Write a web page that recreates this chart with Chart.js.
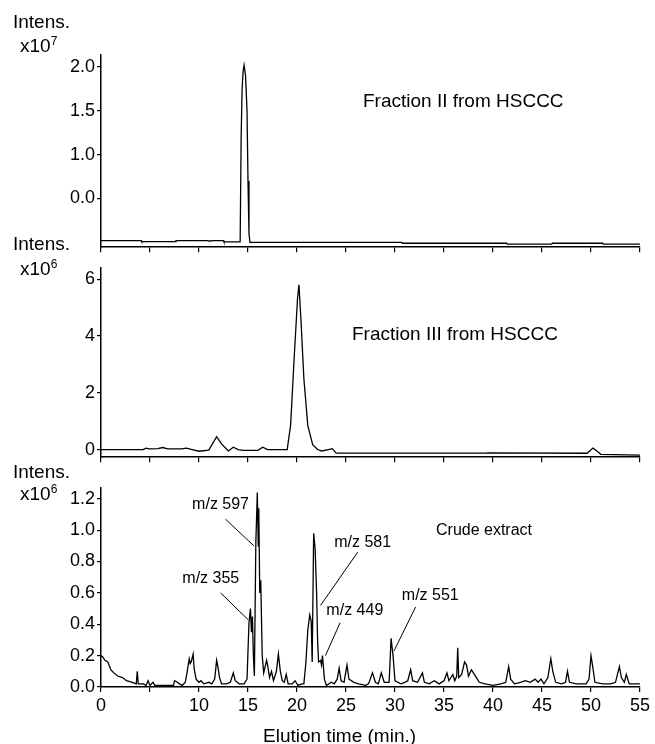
<!DOCTYPE html>
<html>
<head>
<meta charset="utf-8">
<script src="https://cdn.jsdelivr.net/npm/chart.js@4.4.1/dist/chart.umd.min.js"></script>
<style>
  body { margin: 0; background: #fff; font-family: 'Liberation Sans', Arial, sans-serif; color: #000; }
  #page { position: relative; width: 655px; height: 744px; overflow: hidden; }
  canvas { position: absolute; left: 0; }
  .txt { position: absolute; white-space: nowrap; font-size: 19px; line-height: 1; }
  .txt sup { font-size: 12px; vertical-align: 7px; }
</style>
</head>
<body>
<div id="page">
  <canvas id="top-chart" width="655" height="260" style="top:0"></canvas>
  <canvas id="mid-chart" width="655" height="215" style="top:255px"></canvas>
  <canvas id="crude-chart" width="655" height="269" style="top:475px"></canvas>

  <div class="txt" style="left:13px; top:12px">Intens.</div>
  <div class="txt" style="left:20px; top:35px">x10<sup>7</sup></div>
  <div class="txt" style="left:13px; top:234px">Intens.</div>
  <div class="txt" style="left:20px; top:258px">x10<sup>6</sup></div>
  <div class="txt" style="left:13px; top:462px">Intens.</div>
  <div class="txt" style="left:20px; top:483px">x10<sup>6</sup></div>

  <div class="txt" style="left:363px; top:91px">Fraction II from HSCCC</div>
  <div class="txt" style="left:352px; top:324px">Fraction III from HSCCC</div>
  <div class="txt" style="left:436px; top:522px; font-size:16px">Crude extract</div>
  <div class="txt" style="left:263px; top:726px">Elution time (min.)</div>
</div>

<script>
// Fraction II (x10^7)
const topTime = [0, 4.1, 4.15, 7.6, 7.65, 10.9, 11.1, 11.3, 12.5, 12.55, 14.2, 14.3, 14.4, 14.5, 14.6, 14.75, 14.9, 15.0, 15.1, 15.2, 30.7, 30.75, 41.4, 41.45, 46.0, 46.05, 51.2, 51.25, 55];
const topIntensity = [0.02, 0.02, 0.008, 0.008, 0.02, 0.02, 0.012, 0.02, 0.02, 0.004, 0.004, 1.2, 1.75, 1.95, 2.02, 1.9, 1.5, 0.7, 0.1, 0.0, 0.0, -0.011, -0.011, -0.022, -0.022, -0.011, -0.011, -0.022, -0.022];
const topTickValues = [0.5, 1.0, 1.5, 2.0];
const topTickLabels = ['0.0', '1.0', '1.5', '2.0'];

// Fraction III (x10^6)
const midTime = [0, 4.3, 4.6, 4.9, 5.8, 6.3, 6.8, 8.2, 8.7, 9.3, 10.0, 11.0, 11.8, 12.3, 12.8, 13.0, 13.5, 14.0, 14.5, 16.0, 16.5, 17.0, 19.0, 19.35, 19.7, 20.05, 20.2, 20.4, 20.7, 21.1, 21.6, 22.1, 22.5, 23.2, 23.6, 24.0, 39.4, 39.45, 49.6, 50.2, 50.6, 51.0, 55];
const midIntensity = [0, 0, 0.05, 0.02, 0.03, 0.07, 0.02, 0.02, 0.05, 0.0, -0.06, -0.02, 0.45, 0.2, 0.02, -0.05, 0.08, 0.0, -0.03, -0.03, 0.08, 0.0, 0.0, 0.87, 3.15, 5.3, 5.8, 4.6, 2.5, 0.85, 0.17, 0.0, -0.05, 0.0, 0.03, -0.13, -0.13, -0.12, -0.13, 0.05, -0.05, -0.17, -0.2];
const midTickValues = [0, 2, 4, 6];

// Crude extract (x10^6)
const crudeTime = [0, 0.2, 0.4, 0.7, 1.0, 1.3, 1.7, 2.2, 2.6, 3.2, 3.6, 3.7, 3.8, 4.3, 4.6, 4.8, 5.0, 5.3, 5.5, 6.0, 6.4, 7.0, 7.4, 7.5, 7.8, 8.0, 8.3, 8.6, 8.8, 9.0, 9.1, 9.2, 9.4, 9.5, 9.7, 10.0, 10.2, 10.5, 11.0, 11.3, 11.6, 11.8, 11.9, 12.1, 12.3, 12.8, 13.2, 13.5, 13.7, 14.1, 14.6, 14.9, 15.1, 15.25, 15.35, 15.45, 15.55, 15.65, 15.8, 15.95, 16.05, 16.1, 16.2, 16.3, 16.45, 16.6, 16.9, 17.0, 17.2, 17.4, 17.6, 17.9, 18.1, 18.3, 18.5, 18.7, 18.9, 19.1, 19.5, 19.8, 20.1, 20.5, 20.7, 20.9, 21.1, 21.3, 21.45, 21.55, 21.7, 21.85, 22.0, 22.1, 22.2, 22.4, 22.5, 22.6, 22.8, 23.0, 23.5, 23.8, 24.1, 24.3, 24.5, 24.8, 25.1, 25.3, 25.8, 26.3, 27.0, 27.3, 27.7, 28.0, 28.3, 28.6, 28.9, 29.4, 29.6, 29.8, 30.0, 30.6, 31.0, 31.3, 31.6, 31.8, 32.3, 32.8, 33.0, 33.5, 34.0, 34.5, 35.0, 35.3, 35.5, 35.9, 36.1, 36.3, 36.4, 36.5, 36.8, 37.1, 37.3, 37.5, 37.8, 38.0, 38.3, 38.6, 39.2, 40.0, 40.8, 41.3, 41.6, 41.8, 42.2, 42.8, 43.3, 43.8, 44.3, 44.6, 44.9, 45.2, 45.6, 45.9, 46.1, 46.4, 47.0, 47.4, 47.6, 47.8, 48.5, 49.5, 49.8, 50.0, 50.2, 50.4, 51.2, 52.0, 52.5, 52.7, 52.9, 53.1, 53.4, 53.6, 53.9, 55.0];
const crudeIntensity = [0.2, 0.19, 0.17, 0.16, 0.11, 0.09, 0.07, 0.06, 0.04, 0.03, 0.02, 0.10, 0.02, 0.02, 0.01, 0.04, 0.01, 0.03, 0.01, 0.01, 0.01, 0.01, 0.01, 0.04, 0.03, 0.02, 0.01, 0.03, 0.1, 0.18, 0.15, 0.16, 0.21, 0.12, 0.05, 0.03, 0.04, 0.02, 0.03, 0.02, 0.05, 0.17, 0.14, 0.06, 0.02, 0.02, 0.03, 0.09, 0.04, 0.02, 0.02, 0.05, 0.41, 0.5, 0.35, 0.45, 0.2, 0.07, 0.92, 1.24, 0.9, 1.14, 0.6, 0.68, 0.2, 0.09, 0.17, 0.14, 0.06, 0.1, 0.04, 0.1, 0.21, 0.1, 0.04, 0.03, 0.08, 0.02, 0.02, 0.04, 0.01, 0.02, 0.02, 0.15, 0.36, 0.46, 0.42, 0.16, 0.98, 0.88, 0.6, 0.3, 0.16, 0.17, 0.14, 0.2, 0.05, 0.01, 0.03, 0.02, 0.05, 0.12, 0.04, 0.03, 0.14, 0.05, 0.03, 0.02, 0.01, 0.02, 0.09, 0.03, 0.02, 0.09, 0.03, 0.03, 0.31, 0.2, 0.04, 0.02, 0.03, 0.04, 0.11, 0.04, 0.03, 0.09, 0.03, 0.02, 0.04, 0.02, 0.04, 0.09, 0.04, 0.08, 0.04, 0.07, 0.25, 0.06, 0.08, 0.16, 0.14, 0.07, 0.11, 0.09, 0.06, 0.03, 0.02, 0.01, 0.02, 0.03, 0.13, 0.05, 0.02, 0.03, 0.04, 0.03, 0.05, 0.03, 0.05, 0.02, 0.06, 0.18, 0.1, 0.03, 0.02, 0.03, 0.1, 0.03, 0.02, 0.02, 0.05, 0.2, 0.12, 0.03, 0.02, 0.02, 0.03, 0.08, 0.13, 0.06, 0.03, 0.08, 0.02, 0.02];
const crudeTickValues = [0, 0.2, 0.4, 0.6, 0.8, 1.0, 1.2];

// time axis
const timeTicks = [0, 5, 10, 15, 20, 25, 30, 35, 40, 45, 50, 55];
const timeTickLabels = ['0', '', '10', '15', '20', '25', '30', '35', '40', '45', '50', '55'];

// peak labels: text position, leader line start -> end (time, intensity)
const peakLabels = ['m/z 597', 'm/z 355', 'm/z 581', 'm/z 449', 'm/z 551'];
const labelTime = [12.2, 11.2, 26.7, 25.9, 33.6];
const labelIntensity = [1.16, 0.69, 0.92, 0.49, 0.58];
const leaderFrom = [[12.7, 1.07], [12.2, 0.6], [26.2, 0.86], [24.4, 0.41], [32.1, 0.51]];
const leaderTo = [[15.6, 0.9], [15.0, 0.43], [22.4, 0.52], [22.9, 0.2], [29.9, 0.23]];

const peakLabelPlugin = {
  id: 'peakLabels',
  afterDatasetsDraw(chart) {
    const { ctx, scales: { x, y } } = chart;
    ctx.save();
    ctx.strokeStyle = '#000';
    ctx.lineWidth = 1;
    ctx.fillStyle = '#000';
    ctx.font = '16px "Liberation Sans", Arial';
    ctx.textAlign = 'center';
    ctx.textBaseline = 'middle';
    peakLabels.forEach((label, i) => {
      ctx.beginPath();
      ctx.moveTo(x.getPixelForValue(leaderFrom[i][0]), y.getPixelForValue(leaderFrom[i][1]));
      ctx.lineTo(x.getPixelForValue(leaderTo[i][0]), y.getPixelForValue(leaderTo[i][1]));
      ctx.stroke();
      ctx.fillText(label, x.getPixelForValue(labelTime[i]), y.getPixelForValue(labelIntensity[i]));
    });
    ctx.restore();
  },
};

function makePanel(id, times, values, yMin, yMax, yTicks, yLabel, opts) {
  const points = times.map((t, i) => ({ x: t, y: values[i] }));
  return new Chart(document.getElementById(id), {
    type: 'line',
    data: {
      datasets: [{
        data: points,
        borderColor: '#000',
        borderWidth: 1.3,
        pointRadius: 0,
        tension: 0,
        fill: false,
      }],
    },
    plugins: opts.plugins || [],
    options: {
      responsive: false,
      animation: false,
      layout: { padding: { top: opts.padTop, right: 15, left: 0, bottom: 0 } },
      plugins: { legend: { display: false }, tooltip: { enabled: false } },
      scales: {
        x: {
          type: 'linear',
          min: 0,
          max: 55,
          afterBuildTicks: (scale) => { scale.ticks = timeTicks.map((v) => ({ value: v })); },
          afterFit: (scale) => { scale.height = opts.xHeight; },
          border: { display: true, color: '#000', width: 1.5 },
          grid: { drawOnChartArea: false, drawTicks: true, tickLength: 5, color: '#000', lineWidth: 1.2 },
          ticks: {
            display: opts.showTimeLabels,
            color: '#000',
            font: { family: '"Liberation Sans", Arial', size: 18 },
            padding: 3,
            maxRotation: 0,
            autoSkip: false,
            callback: (v, i) => timeTickLabels[i],
          },
        },
        y: {
          min: yMin,
          max: yMax,
          afterBuildTicks: (scale) => { scale.ticks = yTicks.map((v) => ({ value: v })); },
          afterFit: (scale) => { scale.width = 101; },
          border: { display: true, color: '#000', width: 1.5 },
          grid: { drawOnChartArea: false, drawTicks: true, tickLength: 4, color: '#000', lineWidth: 1.2 },
          ticks: {
            color: '#000',
            font: { family: '"Liberation Sans", Arial', size: 18 },
            padding: 2,
            autoSkip: false,
            callback: (v, i) => yLabel(v, i),
          },
        },
      },
    },
  });
}

makePanel('top-chart', topTime, topIntensity, -0.056, 2.135, topTickValues,
  (v, i) => topTickLabels[i], { padTop: 55, xHeight: 11, showTimeLabels: false });

makePanel('mid-chart', midTime, midIntensity, -0.27, 6.4, midTickValues,
  (v) => String(v), { padTop: 10, xHeight: 10, showTimeLabels: false });

makePanel('crude-chart', crudeTime, crudeIntensity, 0, 1.27, crudeTickValues,
  (v) => v.toFixed(1), { padTop: 12, xHeight: 57, showTimeLabels: true, plugins: [peakLabelPlugin] });
</script>
</body>
</html>
